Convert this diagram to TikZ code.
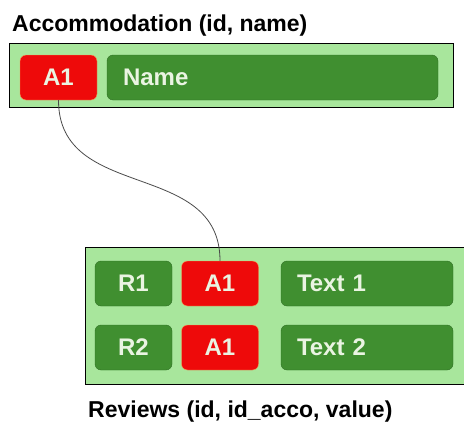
\documentclass[tikz,border=0pt]{standalone}
\usepackage{fontspec}
\setmainfont{Liberation Sans}
\usetikzlibrary{positioning}
\definecolor{dbpale}{HTML}{A8E69C}
\definecolor{dbgreen}{HTML}{408F30}
\definecolor{dbdark}{HTML}{2F6F24}
\definecolor{dbred}{HTML}{EE0A0A}
\definecolor{dbedge}{HTML}{F2A35A}
\definecolor{dbtext}{HTML}{EAF4E2}
\definecolor{dbwire}{HTML}{4A4A4A}

\tikzset{
  tablebox/.style={draw=black, thick, fill=dbpale},
  keybox/.style={draw=dbedge, fill=dbred, text=dbtext, rounded corners=6pt, minimum width=77pt, minimum height=45pt, inner sep=0pt, font=\fontsize{24}{28}\selectfont\bfseries},
  idbox/.style={draw=dbdark, fill=dbgreen, text=dbtext, rounded corners=6pt, minimum width=77pt, minimum height=45pt, inner sep=0pt, font=\fontsize{24}{28}\selectfont\bfseries},
  fieldbox/.style={draw=dbdark, fill=dbgreen, text=dbtext, rounded corners=6pt, minimum height=45pt, inner xsep=16pt, inner ysep=0pt, align=left, font=\fontsize{24}{28}\selectfont\bfseries},
  caption/.style={anchor=base west, inner sep=0pt, text=black}
}

\begin{document}
\begin{tikzpicture}[x=1pt, y=-1pt, font=\fontsize{23}{27}\selectfont\bfseries]
      \useasboundingbox (0,0) rectangle (464,423);
      % tabella accommodation
      \node[caption] (accotitle) at (12,31) {Accommodation (id, name)};
      \node[tablebox, minimum width=444pt, minimum height=64pt] (acco) at (231,75) {};
      \node[keybox] (akey) at (58.5,77.5) {A1};
      \node[fieldbox, text width=299pt] (aname) at (272.5,77.5) {Name};
      % tabella reviews
      \node[tablebox, minimum width=390pt, minimum height=137pt] (rev) at (280,315.5) {};
      \node[idbox] (rid1) at (133.5,283.5) {R1};
      \node[keybox] (rkey1) at (220,283.5) {A1};
      \node[fieldbox, text width=140pt] (rtxt1) at (367,283.5) {Text 1};
      \node[idbox] (rid2) at (133.5,347.5) {R2};
      \node[keybox] (rkey2) at (220,347.5) {A1};
      \node[fieldbox, text width=140pt] (rtxt2) at (367,347.5) {Text 2};
      \node[caption] (revtitle) at (88,417) {Reviews (id, id\_acco, value)};
      % chiave esterna
      \draw[dbwire, line width=0.8pt] (akey.south) to[out=-90, in=90, looseness=1.15] (rkey1.north);
    \end{tikzpicture}
\end{document}
